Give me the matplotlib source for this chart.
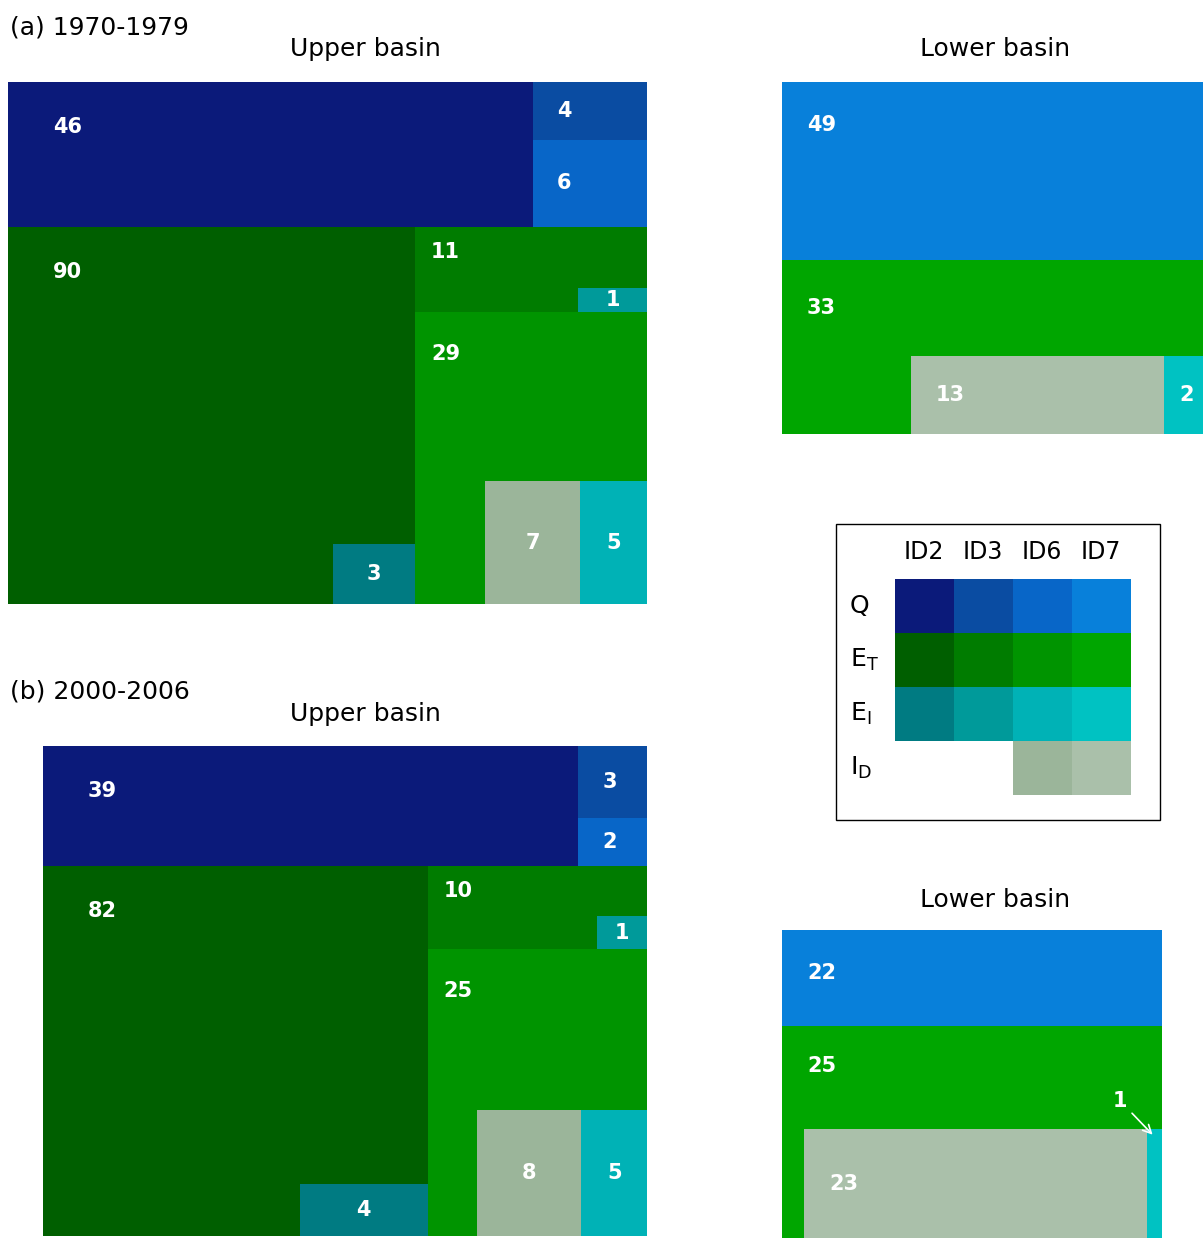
import matplotlib.pyplot as plt
from matplotlib.patches import Rectangle

ids = ['ID2', 'ID3', 'ID6', 'ID7']
colors = {
    'Q':  ['#0b1a7a', '#0a4ca2', '#0866c8', '#0880da'],
    'ET': ['#005f00', '#007c00', '#009400', '#00a600'],
    'EI': ['#007b82', '#009a9a', '#00b2b6', '#00c2c2'],
    'ID': [None, None, '#9bb59a', '#aac0aa'],
}

# values per period / basin (ID2, ID3, ID6 for the upper basin; ID7 for the lower)
a_up_q = [46, 4, 6]
a_up_et = [90, 11, 29]
a_up_ei = [3, 1, 5]
a_up_id = [None, None, 7]
a_lo = {'Q': 49, 'ET': 33, 'ID': 13, 'EI': 2}

b_up_q = [39, 3, 2]
b_up_et = [82, 10, 25]
b_up_ei = [4, 1, 5]
b_up_id = [None, None, 8]
b_lo = {'Q': 22, 'ET': 25, 'ID': 23, 'EI': 1}

fig = plt.figure(figsize=(12.03, 12.38), dpi=100)
ax = fig.add_axes([0, 0, 1, 1])
ax.set_xlim(0, 1203)
ax.set_ylim(1238, 0)
ax.axis('off')

FS = 15


def rect(x, y, w, h, c, label=None, mode='center', dx=16, dy=None):
    ax.add_patch(Rectangle((x, y), w, h, facecolor=c, edgecolor='none'))
    if label is None:
        return
    if mode == 'center':
        ax.text(x + w / 2, y + h / 2, str(label), color='white', fontsize=FS,
                fontweight='bold', ha='center', va='center')
    else:
        ax.text(x + dx, y + (dy if dy else min(42, h * 0.3)), str(label), color='white',
                fontsize=FS, fontweight='bold', ha='left', va='center')


def group(x, y, w, h, unit, et, ei, eid, ci, strip_frac, big=False):
    # ET block with an inset strip (ID_D, EI) at the bottom right
    rect(x, y, w, h, colors['ET'][ci], et, 'corner', dx=45 if big else 16,
         dy=45 if big else None)
    parts = [(eid, colors['ID'][ci]), (ei, colors['EI'][ci])]
    parts = [p for p in parts if p[0]]
    sh = h * strip_frac
    xr = x + w
    for v, c in reversed(parts):
        pw = v * unit / sh
        rect(xr - pw, y + h - sh, pw, sh, c, v)
        xr -= pw


def upper(x0, y0, W, H, q, et, ei, eid, fracs):
    total = sum(q) + sum(et) + sum(ei) + sum(v for v in eid if v)
    unit = W * H / total
    qh = sum(q) * unit / W
    qw = q[0] * unit / qh
    rect(x0, y0, qw, qh, colors['Q'][0], q[0], 'corner', dx=45, dy=45)
    yy = y0
    for i in (1, 2):
        hh = q[i] / (q[1] + q[2]) * qh
        rect(x0 + qw, yy, W - qw, hh, colors['Q'][i], q[i], 'corner', dx=24, dy=hh / 2)
        yy += hh
    bh = H - qh
    g = [et[i] + ei[i] + (eid[i] or 0) for i in range(3)]
    lw = g[0] * unit / bh
    group(x0, y0 + qh, lw, bh, unit, et[0], ei[0], eid[0], 0, fracs[0], big=True)
    yy = y0 + qh
    for i in (1, 2):
        hh = g[i] * unit / (W - lw)
        group(x0 + lw, yy, W - lw, hh, unit, et[i], ei[i], eid[i], i, fracs[i])
        yy += hh


def lower(x0, y0, W, H, d, frac):
    total = sum(d.values())
    unit = W * H / total
    qh = d['Q'] * unit / W
    rect(x0, y0, W, qh, colors['Q'][3], d['Q'], 'corner', dx=25, dy=min(43, qh / 2))
    bh = H - qh
    ax.add_patch(Rectangle((x0, y0 + qh), W, bh, facecolor=colors['ET'][3], edgecolor='none'))
    ax.text(x0 + 25, y0 + qh + 40 if bh > 200 else y0 + qh + 48, str(d['ET']), color='white',
            fontsize=FS, fontweight='bold', va='center')
    sh = bh * frac
    xr = x0 + W
    ew = d['EI'] * unit / sh
    iw = d['ID'] * unit / sh
    rect(xr - ew - iw, y0 + H - sh, iw, sh, colors['ID'][3])
    ax.text(xr - ew - iw + 25, y0 + H - sh / 2, str(d['ID']), color='white', fontsize=FS,
            fontweight='bold', va='center')
    rect(xr - ew, y0 + H - sh, ew, sh, colors['EI'][3], None)
    return xr - ew, y0 + H - sh, ew, sh


upper(8, 82, 639, 522, a_up_q, a_up_et, a_up_ei, a_up_id, [0.16, 0.28, 0.42])
x, y, w, h = lower(782, 82, 421, 352, a_lo, 0.45)
ax.text(x + w / 2 + 3, y + h / 2, str(a_lo['EI']), color='white', fontsize=FS,
        fontweight='bold', ha='center', va='center')

upper(43, 746, 604, 490, b_up_q, b_up_et, b_up_ei, b_up_id, [0.14, 0.4, 0.44])
x, y, w, h = lower(782, 930, 380, 310, b_lo, 0.52)
ax.annotate(str(b_lo['EI']), xy=(x + w / 2, y + 8), xytext=(x - 27, y - 28),
            color='white', fontsize=FS, fontweight='bold', ha='center', va='center',
            arrowprops=dict(arrowstyle='->', color='white', lw=1.2))

ax.text(10, 27, '(a) 1970-1979', fontsize=18, va='center')
ax.text(10, 692, '(b) 2000-2006', fontsize=18, va='center')
for xt, yt in [(365, 49), (995, 49), (365, 714), (995, 900)]:
    ax.text(xt, yt, 'Upper basin' if xt < 600 else 'Lower basin', fontsize=18,
            ha='center', va='center')

# legend
ax.add_patch(Rectangle((836, 524), 324, 296, facecolor='none', edgecolor='black', lw=1))
cw, chh = 59, 54
for j, name in enumerate(ids):
    ax.text(924 + j * cw, 552, name, fontsize=17, ha='center', va='center')
rows = ['Q', 'ET', 'EI', 'ID']
rlabels = ['Q', '$\\mathregular{E_T}$', '$\\mathregular{E_I}$', '$\\mathregular{I_D}$']
for i, r in enumerate(rows):
    ax.text(850, 606 + i * chh, rlabels[i], fontsize=18, ha='left', va='center')
    for j in range(4):
        c = colors[r][j]
        if c:
            ax.add_patch(Rectangle((895 + j * cw, 579 + i * chh), cw, chh,
                                   facecolor=c, edgecolor='none'))

fig.savefig('out.png', dpi=100)
